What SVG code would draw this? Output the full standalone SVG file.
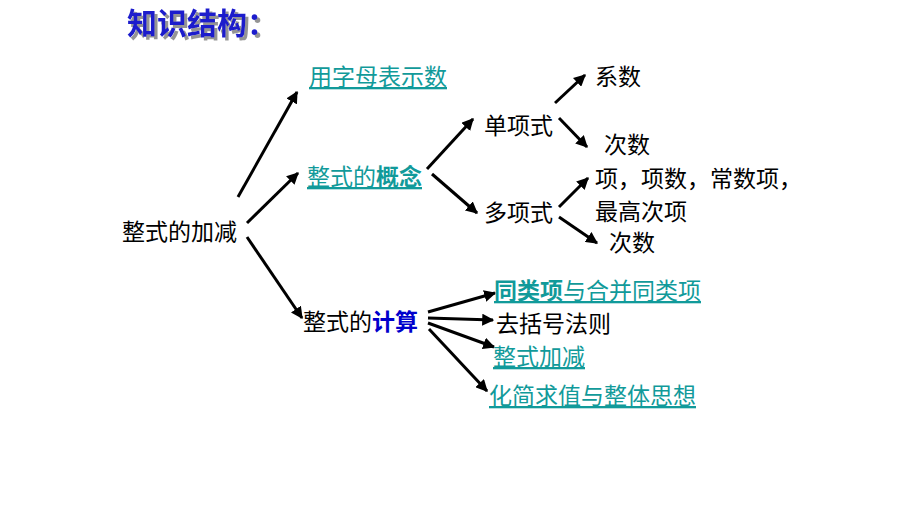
<svg xmlns="http://www.w3.org/2000/svg" width="920" height="518" viewBox="0 0 920 518">
<defs>
<marker id="ah" viewBox="0 0 10 10" refX="9" refY="5" markerWidth="4" markerHeight="4" orient="auto" markerUnits="strokeWidth">
<path d="M0,0 L10,5 L0,10 z" fill="#000"/>
</marker>
<filter id="shadow" x="-10%" y="-30%" width="130%" height="170%">
<feDropShadow dx="3" dy="3" stdDeviation="0.6" flood-color="#888" flood-opacity="0.9"/>
</filter>
</defs>
<style>
text{font-family:"Noto Sans CJK SC","Noto Sans",sans-serif;font-size:23px;dominant-baseline:central;fill:#000}
.l{fill:#119a9a;text-decoration:underline}
.b{font-weight:bold}
.blue{fill:#0000cc;font-weight:bold}
.c line{stroke:#000;stroke-width:3;marker-end:url(#ah)}
.title{font-size:30px;font-weight:bold;fill:#1a1acc}
</style>
<rect width="920" height="518" fill="#fff"/>
<g id="title">
<text class="title" x="127" y="21" filter="url(#shadow)">知识结构：</text>
</g>
<g id="connectors" class="c">
<line x1="238" y1="197" x2="297" y2="92"/>
<line x1="247" y1="223" x2="298" y2="173"/>
<line x1="247" y1="237" x2="302" y2="318"/>
<line x1="427" y1="169" x2="473" y2="119"/>
<line x1="432" y1="174" x2="477" y2="213"/>
<line x1="555" y1="103" x2="585" y2="75"/>
<line x1="559" y1="118" x2="587" y2="147"/>
<line x1="559" y1="207" x2="588" y2="178"/>
<line x1="559" y1="217" x2="597" y2="243"/>
<line x1="428" y1="312" x2="495" y2="293"/>
<line x1="428" y1="318" x2="493" y2="320"/>
<line x1="428" y1="323" x2="494" y2="347"/>
<line x1="429" y1="329" x2="487" y2="391"/>
</g>
<g id="root"><text x="122" y="230">整式的加减</text></g>
<g id="n1"><text class="l" x="309" y="75">用字母表示数</text></g>
<g id="n2"><text class="l" x="307" y="175">整式的<tspan class="b">概念</tspan></text></g>
<g id="n3"><text x="303" y="320">整式的<tspan class="blue">计算</tspan></text></g>
<g id="n4"><text x="484" y="124">单项式</text></g>
<g id="n5"><text x="484" y="211">多项式</text></g>
<g id="n6"><text x="595" y="75">系数</text></g>
<g id="n7"><text x="604" y="143">次数</text></g>
<g id="n8"><text x="595" y="177">项，项数，常数项，</text><text x="595" y="210">最高次项</text></g>
<g id="n9"><text x="609" y="241">次数</text></g>
<g id="n10"><text class="l" x="494" y="289"><tspan class="b">同类项</tspan>与合并同类项</text></g>
<g id="n11"><text x="496" y="322">去括号法则</text></g>
<g id="n12"><text class="l" x="493" y="355">整式加减</text></g>
<g id="n13"><text class="l" x="489" y="394">化简求值与整体思想</text></g>
</svg>
